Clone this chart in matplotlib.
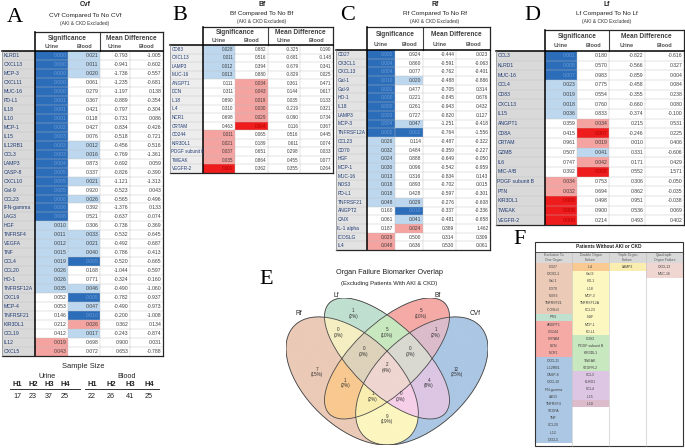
import numpy as np
import matplotlib.pyplot as plt
from matplotlib.patches import Rectangle, Ellipse
from matplotlib.colors import to_rgba

plt.rcParams['font.family'] = ['Liberation Sans', 'DejaVu Sans']

# ---------------- A: CVf ----------------
cvf_names = ['KLRD1', 'CXCL13', 'MCP-3', 'CXCL11', 'MUC-16', 'PD-L1', 'IL18', 'IL10', 'MCP-1', 'IL15',
             'IL12RB1', 'CCL3', 'LAMP3', 'CASP-8', 'CXCL10', 'Gal-9', 'CCL23', 'IFN-gamma', 'LAG3', 'HGF',
             'TNFRSF4', 'VEGFA', 'TNF', 'CCL4', 'CCL20', 'HO-1', 'TNFRSF12A', 'CXCL9', 'MCP-4', 'TNFRSF21',
             'KIR3DL1', 'CCL19', 'IL12', 'CXCL5']
cvf_p_urine = [0.000, 0.000, 0.000, 0.000, 0.000, 0.001, 0.001, 0.001, 0.002, 0.003,
               0.003, 0.003, 0.004, 0.005, 0.005, 0.005, 0.006, 0.006, 0.008, 0.0104,
               0.011, 0.012, 0.015, 0.019, 0.026, 0.026, 0.035, 0.052, 0.053, 0.146,
               0.212, 0.412, 0.019, 0.043]
cvf_p_blood = [0.021, 0.011, 0.020, 0.061, 0.279, 0.367, 0.421, 0.118, 0.427, 0.076,
               0.012, 0.016, 0.873, 0.337, 0.021, 0.920, 0.026, 0.392, 0.521, 0.306,
               0.033, 0.021, 0.040, 0.005, 0.168, 0.771, 0.046, 0.005, 0.047, 0.0096,
               0.026, 0.017, 0.698, 0.072]
cvf_md_urine = [-0.793, -0.941, -1.736, -1.235, -1.197, -0.889, -0.797, -0.731, -0.834, -0.518,
                -0.456, -0.769, -0.692, -0.826, -1.121, -0.523, -0.565, -1.376, -0.637, -0.736,
                -0.532, -0.492, -0.786, -0.520, -1.044, -0.324, -0.490, -0.782, -0.490, -0.200,
                0.362, -0.243, 0.900, 0.653]
cvf_md_blood = [-1.005, -0.602, -0.557, -0.681, 0.138, -0.354, -0.304, 0.086, -0.426, -0.721,
                -0.516, -1.361, 0.059, -0.390, -1.313, 0.043, -0.496, 0.133, -0.074, -0.369,
                -0.645, -0.687, -0.413, -0.665, -0.597, -0.160, -1.060, -0.937, -0.973, -1.008,
                0.134, -0.874, 0.031, -0.788]

# ---------------- B: Bf ----------------
bf_names = ['CD83', 'CXCL13', 'LAMP3', 'MUC-16', 'ANGPT1', 'DCN', 'IL18', 'IL4', 'NCR1', 'CRTAM',
            'CD244', 'KIR3DL1', 'PDGF subunit B', 'TWEAK', 'VEGFR-2']
bf_p_urine = [0.028, 0.011, 0.012, 0.013, 0.111, 0.311, 0.890, 0.310, 0.698, 0.463,
              0.011, 0.021, 0.037, 0.035, 0.001]
bf_p_blood = [0.882, 0.516, 0.394, 0.880, 0.034, 0.043, 0.019, 0.030, 0.029, 0.004,
              0.065, 0.189, 0.651, 0.864, 0.362]
bf_md_urine = [-0.325, -0.681, -0.679, -0.829, 0.361, 0.144, 0.035, -0.219, -0.090, 0.116,
               0.516, 0.611, 0.298, 0.455, 0.355]
bf_md_blood = [0.190, -0.148, 0.341, 0.025, 0.471, 0.617, 0.133, 0.321, 0.734, 0.367,
               0.445, 0.074, 0.033, 0.077, 0.264]

# ---------------- C: Rf ----------------
rf_names = ['CD27', 'CX3CL1', 'CXCL13', 'Gal-1', 'Gal-9', 'HO-1', 'IL18', 'LAMP3', 'MCP-3', 'TNFRSF12A',
            'CCL23', 'CD70', 'HGF', 'MCP-1', 'MUC-16', 'NOS3', 'PD-L1', 'TNFRSF21', 'ANGPT2', 'CAIX',
            'IL-1 alpha', 'ICOSLG', 'IL4']
rf_p_urine = [0.002, 0.004, 0.004, 0.0098, 0.001, 0.000, 0.000, 0.003, 0.004, 0.002,
              0.026, 0.032, 0.024, 0.030, 0.013, 0.018, 0.018, 0.048, 0.160, 0.061,
              0.187, 0.029, 0.048]
rf_p_blood = [0.924, 0.860, 0.077, 0.020, 0.477, 0.221, 0.261, 0.727, 0.047, 0.002,
              0.114, 0.484, 0.888, 0.096, 0.316, 0.893, 0.428, 0.029, 0.0098, 0.041,
              0.024, 0.500, 0.636]
rf_md_urine = [-0.444, -0.591, -0.762, -0.488, -0.705, -0.845, -0.943, -0.820, -1.251, -0.764,
               -0.487, -0.359, -0.649, -0.542, -0.834, -0.702, -0.597, -0.276, -0.337, -0.481,
               0.389, 0.314, 0.530]
rf_md_blood = [0.023, -0.063, -0.401, -0.886, 0.314, 0.676, 0.432, 0.127, -0.418, -1.556,
               -0.322, -0.227, -0.050, -0.959, 0.143, 0.015, -0.301, -0.608, -0.336, -0.658,
               1.462, 0.309, 0.061]

# ---------------- D: Lf ----------------
lf_names = ['CCL3', 'KLRD1', 'MUC-16', 'CCL4', 'CD83', 'CXCL13', 'IL15', 'ANGPT1', 'CD8A', 'CRTAM',
            'GZMB', 'IL6', 'MIC-A/B', 'PDGF subunit B', 'PTN', 'KIR3DL1', 'TWEAK', 'VEGFR-2']
lf_p_urine = [0.001, 0.008, 0.007, 0.023, 0.019, 0.018, 0.036, 0.359, 0.415, 0.961,
              0.507, 0.747, 0.392, 0.034, 0.032, 0.000, 0.009, 0.000]
lf_p_blood = [0.180, 0.570, 0.983, 0.775, 0.554, 0.760, 0.833, 0.034, 0.007, 0.019,
              0.041, 0.042, 0.008, 0.753, 0.694, 0.498, 0.900, 0.214]
lf_md_urine = [-0.822, -0.566, -0.859, -0.458, -0.355, -0.660, -0.374, 0.215, -0.246, 0.010,
               0.331, 0.171, 0.552, 0.306, 0.862, 0.951, 0.536, 0.493]
lf_md_blood = [-0.616, 0.327, 0.004, 0.084, 0.238, 0.080, -0.100, 0.531, 0.225, 0.406,
               -0.606, 0.429, 1.571, -0.050, -0.035, -0.038, 0.069, 0.402]

# sample size (panel A)
sample_groups = ['H1', 'H2', 'H3', 'H4']
n_urine = [17, 23, 37, 25]
n_blood = [22, 26, 41, 25]

# ---------------- E / F: overlap ----------------
venn_sets = ['Rf', 'Lf', 'Bf', 'CVf']
venn_genes = {
    '1000': ['CD27', 'CX3CL1', 'Gal-1', 'CD70', 'NOS3', 'TNFRSF21', 'ICOSLG'],
    '0100': ['PTN'],
    '0010': ['ANGPT1', 'CD244', 'CRTAM', 'DCN', 'NCR1'],
    '0001': ['CXCL11', 'IL12RB1', 'CASP-8', 'CXCL10', 'IFN-gamma', 'LAG3', 'TNFRSF4', 'VEGFA',
             'TNF', 'CCL20', 'IL12', 'CXCL5'],
    '1100': [],
    '1010': ['IL4'],
    '1001': ['Gal-9', 'HO-1', 'IL18', 'MCP-3', 'TNFRSF12A', 'CCL23', 'HGF', 'MCP-1', 'PD-L1'],
    '0110': ['CD83', 'PDGF subunit B', 'KIR3DL1', 'TWEAK', 'VEGFR-2'],
    '0101': ['CCL3', 'KLRD1', 'CCL4', 'IL15'],
    '0011': ['IL10'],
    '1110': [],
    '1101': [],
    '1011': ['LAMP3'],
    '0111': [],
    '1111': ['CXCL13', 'MUC-16'],
}
f_columns = [['1000', '0100', '0010', '0001'],
             ['1010', '1001', '0110', '0101', '0011'],
             ['1011'],
             ['1111']]
f_headers = ['Exclusive To\nOne Organ', 'Double Organ\nFailure', 'Triple Organ\nFailure',
             'Quadruple\nOrgan Failure']

# ---------------- styles ----------------
DARK_BLUE = '#2c6dba'
LIGHT_BLUE = '#bdd7ee'
LIGHT_RED = '#f5a3a0'
STRONG_RED = '#ee1c1c'
GRID = '#bfbfbf'
LABEL_COL = '#1f3b73'
VAL_COL = '#3f3f3f'

region_colours = {
    '1000': '#ebcab7', '0100': '#c0e0d0', '0010': '#f5aaa6', '0001': '#abc7e4',
    '1100': '#f4eec2', '1010': '#f8c990', '1001': '#fcf6c0', '0110': '#c8e8bf',
    '0101': '#dcc6e4', '0011': '#dcbccb', '1110': '#ddd2ba', '1101': '#f6cfe8',
    '1011': '#f9eeb0', '0111': '#d9d9d1', '1111': '#efd6d1',
}


def cell_colour(p, md):
    if p >= 0.05:
        return 'white'
    if md < 0:
        return DARK_BLUE if p < 0.01 else LIGHT_BLUE
    return STRONG_RED if p < 0.01 else LIGHT_RED


def text_colour(fc):
    if fc == DARK_BLUE:
        return '#6a9ad6'
    if fc == STRONG_RED:
        return '#b30000'
    return VAL_COL


fig = plt.figure(figsize=(6.85, 4.48), dpi=100)
ax = fig.add_axes([0, 0, 1, 1])
ax.set_xlim(0, 685)
ax.set_ylim(448, 0)
ax.axis('off')


def draw_table(x_edges, head_top, rows_top, row_h, names, pu, pb, mu, mb, label_bg, fs=3.4):
    xl, xd, xr = x_edges[0], x_edges[1], x_edges[-1]
    n = len(names)
    bottom = rows_top + n * row_h
    ax.add_patch(Rectangle((xl, rows_top), xd - xl, n * row_h, fc=label_bg, ec='none'))
    for i, name in enumerate(names):
        top = rows_top + i * row_h
        yc = top + row_h / 2
        ax.text(xl + 1.5, yc, name, fontsize=fs, color=LABEL_COL, va='center', ha='left')
        ps = [pu[i], pb[i]]
        mds = [mu[i], mb[i]]
        for j in range(2):
            fc = cell_colour(ps[j], mds[j])
            ax.add_patch(Rectangle((x_edges[1 + j], top), x_edges[2 + j] - x_edges[1 + j], row_h,
                                   fc=fc, ec='none'))
            ax.text(x_edges[2 + j] - 1.5, yc, f'{ps[j]:.3f}', fontsize=fs, color=text_colour(fc),
                    va='center', ha='right')
            ax.text(x_edges[4 + j] - 1.5, yc, f'{mds[j]:.3f}', fontsize=fs, color=VAL_COL,
                    va='center', ha='right')
        if i < n - 1:
            ax.plot([xl, xr], [top + row_h] * 2, color=GRID, lw=0.3)
    for x in x_edges[2:-1]:
        ax.plot([x, x], [rows_top, bottom], color=GRID, lw=0.3)
    # header
    hy1 = head_top + (rows_top - head_top) * 0.32
    hy2 = head_top + (rows_top - head_top) * 0.76
    ax.text((x_edges[1] + x_edges[3]) / 2, hy1, 'Significance', fontsize=4.7, fontweight='bold',
            color='#404040', ha='center', va='center')
    ax.text((x_edges[3] + x_edges[5]) / 2, hy1, 'Mean Difference', fontsize=4.7, fontweight='bold',
            color='#404040', ha='center', va='center')
    for j, lab in enumerate(['Urine', 'Blood', 'Urine', 'Blood']):
        ax.text((x_edges[1 + j] + x_edges[2 + j]) / 2, hy2, lab, fontsize=4.0, fontweight='bold',
                color='#505050', ha='center', va='center')
    ax.plot([x_edges[3]] * 2, [head_top, rows_top], color='#404040', lw=0.8)
    ax.plot([xd, xr], [head_top] * 2, color='#262626', lw=0.9)
    ax.plot([xd, xd], [head_top, bottom], color='black', lw=1.1)
    ax.plot([xr, xr], [head_top, bottom], color='#262626', lw=0.9)
    ax.plot([xl, xr], [rows_top] * 2, color='black', lw=1.1)
    ax.plot([xl, xr], [bottom] * 2, color='#262626', lw=0.9)
    ax.plot([xl, xl], [rows_top, bottom], color='#8c8c8c', lw=0.5)


def draw_title(x, ys, name, letter, letter_xy):
    ax.text(x, ys[0], name, fontsize=4.9, fontweight='bold', ha='center', va='center', color='#222222')
    ax.text(x, ys[1], f'{name} Compared To No {name}', fontsize=4.6, ha='center', va='center',
            color='#222222')
    ax.text(x, ys[2], '(AKI & CKD Excluded)', fontsize=3.5, ha='center', va='center', color='#333333')
    ax.text(*letter_xy, letter, fontsize=16, family='Liberation Serif', ha='center', va='center')


# A
draw_table([2, 35, 68, 100, 130, 163], 32, 51, 8.97, cvf_names, cvf_p_urine, cvf_p_blood,
           cvf_md_urine, cvf_md_blood, '#d9d9d9', fs=3.7)
ax.text(85, 5, 'Cvf', fontsize=4.9, fontweight='bold', ha='center', va='center', color='#222222')
ax.text(85, 15, 'CVf Compared To No CVf', fontsize=4.6, ha='center', va='center', color='#222222')
ax.text(85, 24, '(AKI & CKD Excluded)', fontsize=3.5, ha='center', va='center', color='#333333')
ax.text(15, 17, 'A', fontsize=16, family='Liberation Serif', ha='center', va='center')

# sample size
ax.text(83, 367, 'Sample Size', fontsize=5.4, ha='center', va='center', color='#222222')
ax.text(47, 376, 'Urine', fontsize=5.2, ha='center', va='center', color='#222222')
ax.text(127, 376, 'Blood', fontsize=5.2, ha='center', va='center', color='#222222')
urine_x = np.linspace(17, 65, 4)
blood_x = np.linspace(92, 149, 4)
for gx, bx, g, nu, nb in zip(urine_x, blood_x, sample_groups, n_urine, n_blood):
    ax.text(gx, 384, g, fontsize=5.4, fontweight='bold', ha='center', va='center', color='#222222')
    ax.text(bx, 384, g, fontsize=5.4, fontweight='bold', ha='center', va='center', color='#222222')
    ax.text(gx, 397, str(nu), fontsize=5.2, ha='center', va='center', color='#222222')
    ax.text(bx, 397, str(nb), fontsize=5.2, ha='center', va='center', color='#222222')
ax.plot([10, 80], [389.5, 389.5], color='#333333', lw=0.7)
ax.plot([85, 159], [389.5, 389.5], color='#333333', lw=0.7)

# B
draw_table([170, 203, 235, 268, 300, 333], 27, 45, 8.53, bf_names, bf_p_urine, bf_p_blood,
           bf_md_urine, bf_md_blood, '#ededed', fs=3.3)
draw_title(262, [5, 14, 22], 'Bf', 'B', (180, 15))

# C
draw_table([336, 367, 395, 423, 456, 490], 27, 50, 8.7, rf_names, rf_p_urine, rf_p_blood,
           rf_md_urine, rf_md_blood, '#e3e3e3', fs=3.5)
draw_title(435, [5, 14, 21], 'Rf', 'C', (348, 15))

# D
draw_table([496, 545, 577, 609, 645, 684], 30, 51, 9.67, lf_names, lf_p_urine, lf_p_blood,
           lf_md_urine, lf_md_blood, '#d9d9d9', fs=3.7)
draw_title(607, [5, 14, 22], 'Lf', 'D', (532, 15))

# ---------------- E: Venn ----------------
ax.text(266, 280, 'E', fontsize=16, family='Liberation Serif', ha='center', va='center')
ax.text(389, 273, 'Organ Failure Biomarker Overlap', fontsize=5.2, ha='center', va='center',
        color='#222222')
ax.text(389, 284, '(Excluding Patients With AKI & CKD)', fontsize=4.2, ha='center', va='center',
        color='#222222')

xlo, xhi, ylo, yhi = 0.065, 0.935, 0.185, 0.839
vax = fig.add_axes([286 / 685, 3 / 448, 202 / 685, 147 / 448])
vax.set_xlim(xlo, xhi)
vax.set_ylim(ylo, yhi)
vax.axis('off')

ellipses = [(0.35, 0.47, 0.35, 0.20, -45), (0.50, 0.57, 0.35, 0.15, -45),
            (0.50, 0.57, 0.35, 0.15, 45), (0.65, 0.47, 0.35, 0.20, 45)]
gx, gy = np.meshgrid(np.linspace(xlo, xhi, 800), np.linspace(ylo, yhi, 600))
masks = []
for cx, cy, a, b, ang in ellipses:
    t = np.deg2rad(ang)
    dx, dy = gx - cx, gy - cy
    u = dx * np.cos(t) + dy * np.sin(t)
    v = -dx * np.sin(t) + dy * np.cos(t)
    masks.append((u / a) ** 2 + (v / b) ** 2 <= 1)
img = np.zeros(gx.shape + (4,))
for key, col in region_colours.items():
    m = np.ones(gx.shape, bool)
    for k, inside in zip(key, masks):
        m &= inside if k == '1' else ~inside
    img[m] = to_rgba(col)
vax.imshow(img, extent=(xlo, xhi, ylo, yhi), origin='lower', aspect='auto')
for cx, cy, a, b, ang in ellipses:
    vax.add_patch(Ellipse((cx, cy), 2 * a, 2 * b, angle=ang, fill=False, ec='#4a4a4a', lw=0.6))

label_pos = {
    '1000': (0.20, 0.51), '0100': (0.355, 0.77), '0010': (0.645, 0.77), '0001': (0.80, 0.51),
    '1100': (0.29, 0.685), '0110': (0.50, 0.685), '0011': (0.71, 0.685),
    '1110': (0.40, 0.60), '0111': (0.60, 0.60), '1111': (0.50, 0.53),
    '1010': (0.32, 0.46), '0101': (0.68, 0.46),
    '1011': (0.44, 0.40), '1101': (0.56, 0.40), '1001': (0.50, 0.30),
}
total = sum(len(g) for g in venn_genes.values())
for key, (lx, ly) in label_pos.items():
    cnt = len(venn_genes[key])
    vax.text(lx, ly, f'{cnt}\n({round(100 * cnt / total)}%)', fontsize=3.3, ha='center',
             va='center', color='#333333', linespacing=1.15)
set_label_pos = [(0.12, 0.77), (0.28, 0.85), (0.72, 0.85), (0.88, 0.77)]
for name, (lx, ly) in zip(venn_sets, set_label_pos):
    vax.text(lx, ly, name, fontsize=4.8, ha='center', va='center', color='#222222', clip_on=False)

# ---------------- F: table ----------------
ax.text(520, 240, 'F', fontsize=16, family='Liberation Serif', ha='center', va='center')
f_x = np.linspace(535, 683, 5)
f_top, f_head, f_rows, f_row_h, f_bottom = 242, 252, 263.5, 7.2, 446
ax.text(609, 247, 'Patients Without AKI or CKD', fontsize=3.4, fontweight='bold', ha='center',
        va='center', color='#222222')
ax.add_patch(Rectangle((f_x[0], f_head), f_x[-1] - f_x[0], f_rows - f_head, fc='#d9d9d9', ec='none'))
for j, (keys, head) in enumerate(zip(f_columns, f_headers)):
    xc = (f_x[j] + f_x[j + 1]) / 2
    ax.text(xc, (f_head + f_rows) / 2, head, fontsize=2.5, ha='center', va='center',
            color='#595959', linespacing=1.2)
    genes = [(g, k) for k in keys for g in venn_genes[k]]
    for i, (g, k) in enumerate(genes):
        top = f_rows + i * f_row_h
        ax.add_patch(Rectangle((f_x[j], top), f_x[j + 1] - f_x[j], f_row_h,
                               fc=region_colours[k], ec='none'))
        ax.text(xc, top + f_row_h / 2, g, fontsize=2.5, ha='center', va='center', color='#404040')
for x in f_x[1:-1]:
    ax.plot([x, x], [f_head, f_bottom], color='#bfbfbf', lw=0.4)
ax.plot([f_x[0], f_x[-1]], [f_head] * 2, color='#404040', lw=0.6)
ax.add_patch(Rectangle((f_x[0], f_top), f_x[-1] - f_x[0], f_bottom - f_top, fill=False,
                       ec='#333333', lw=0.8))

fig.savefig('out.png', dpi=100)
